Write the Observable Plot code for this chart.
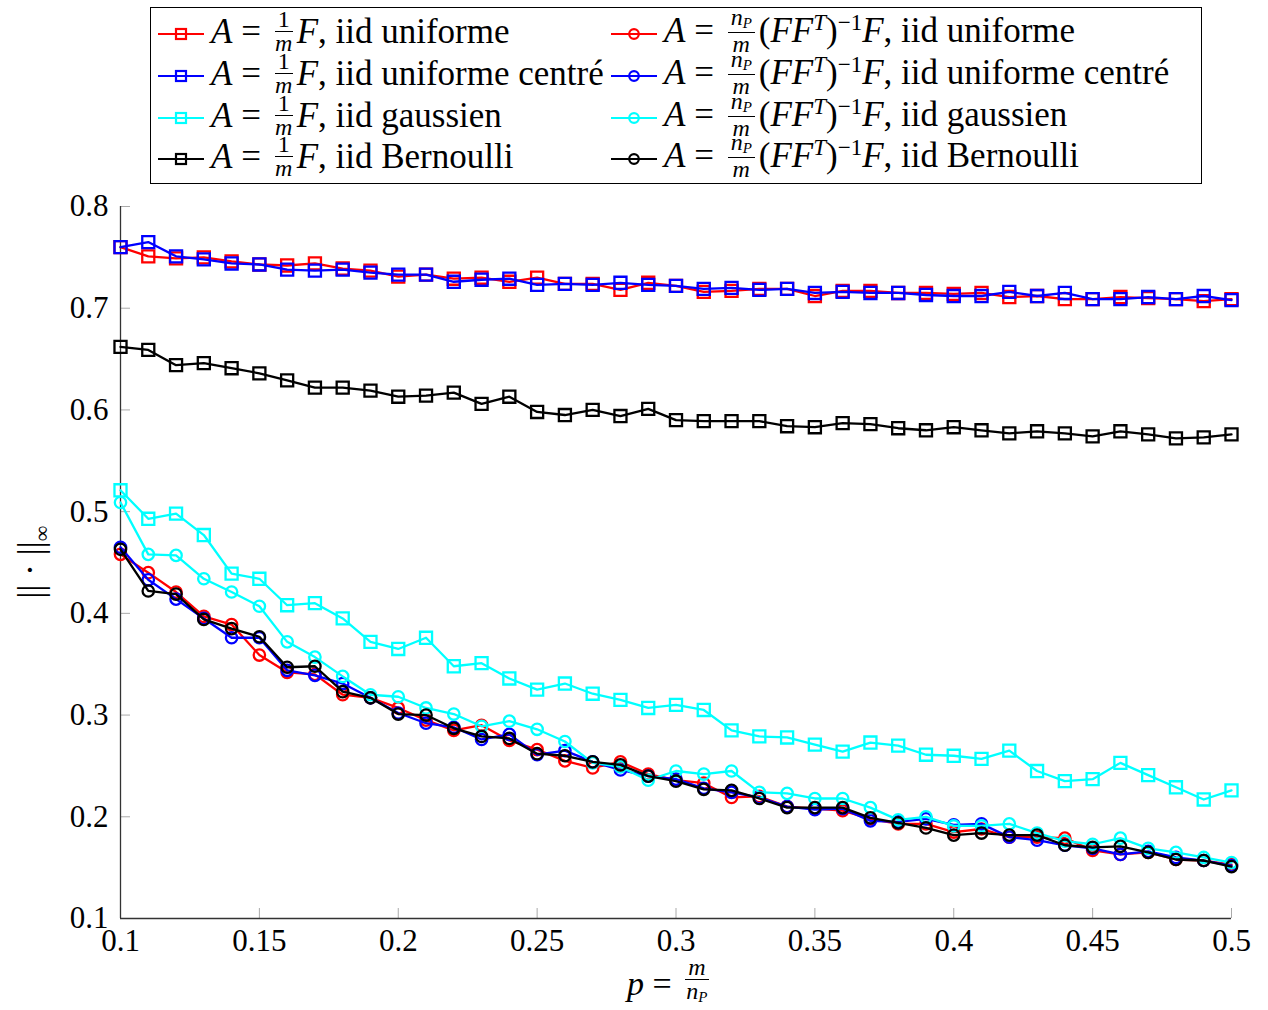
<!DOCTYPE html>
<html>
<head>
<meta charset="utf-8">
<script src="https://cdn.jsdelivr.net/npm/d3@7"></script>
<script src="https://cdn.jsdelivr.net/npm/@observablehq/plot@0.6"></script>
<style>
  body { margin: 0; background: #fff; font-family: "Liberation Serif", serif; }
  #wrap { position: relative; width: 1268px; height: 1010px; overflow: hidden; }
  #chart { position: absolute; left: 0; top: 170px; z-index: 1; }
  #legend { position: absolute; left: 150px; top: 7px; width: 1052px; height: 177px; border: 1.3px solid #000; box-sizing: border-box; background: #fff; z-index: 2; }
  .entry { position: absolute; height: 40px; display: flex; align-items: center; font-size: 35px; white-space: nowrap; color: #000; }
  .entry svg { margin-right: 6px; flex: none; }
  .it { font-style: italic; }
  .frac { display: inline-flex; flex-direction: column; align-items: center; vertical-align: middle; font-size: 24px; line-height: 19px; margin: 0 4px 0 5px; position: relative; top: -3px; }
  .frac .num { border-bottom: 1.3px solid #000; padding: 0 3px 2px 3px; }
  .frac .den { padding-top: 2px; }
  .sub { font-size: 15px; position: relative; top: 3px; font-style: italic; }
  .sup { font-size: 23px; position: relative; top: -12px; }
  #xlabel { position: absolute; left: 627px; top: 963px; height: 42px; font-size: 34px; display: flex; align-items: center; white-space: nowrap; z-index: 2; }
  #ylabel { position: absolute; left: -24px; top: 542px; width: 110px; font-size: 35px; transform: rotate(-90deg); transform-origin: center; text-align: center; white-space: nowrap; z-index: 2; }
</style>
</head>
<body>
<div id="wrap">
  <div id="chart"></div>
  <div id="legend"></div>
  <div id="xlabel"><span class="it">p</span>&nbsp;=&nbsp;<span class="frac"><span class="num it">m</span><span class="den it">n<span class="sub">P</span></span></span></div>
  <div id="ylabel">||&nbsp;·&nbsp;||<span style="font-size:22px;position:relative;top:7px">∞</span></div>
</div>
<script>
const pValues = [0.10,0.11,0.12,0.13,0.14,0.15,0.16,0.17,0.18,0.19,0.20,0.21,0.22,0.23,0.24,0.25,0.26,0.27,0.28,0.29,0.30,0.31,0.32,0.33,0.34,0.35,0.36,0.37,0.38,0.39,0.40,0.41,0.42,0.43,0.44,0.45,0.46,0.47,0.48,0.49,0.50];

const sqUniforme = [0.760,0.751,0.749,0.750,0.746,0.743,0.742,0.744,0.739,0.737,0.731,0.733,0.729,0.730,0.726,0.730,0.724,0.724,0.718,0.725,0.722,0.716,0.717,0.719,0.719,0.712,0.717,0.717,0.715,0.715,0.714,0.715,0.711,0.712,0.709,0.709,0.711,0.710,0.709,0.707,0.709];
const sqCentre = [0.760,0.765,0.751,0.748,0.744,0.743,0.738,0.737,0.738,0.735,0.733,0.733,0.726,0.728,0.729,0.723,0.724,0.723,0.725,0.723,0.722,0.719,0.720,0.718,0.719,0.715,0.716,0.715,0.715,0.713,0.712,0.712,0.716,0.712,0.715,0.709,0.709,0.711,0.709,0.712,0.708];
const sqGaussien = [0.521,0.493,0.498,0.477,0.439,0.434,0.408,0.410,0.395,0.372,0.365,0.376,0.348,0.351,0.336,0.325,0.331,0.321,0.315,0.307,0.310,0.305,0.285,0.279,0.278,0.271,0.264,0.273,0.270,0.261,0.260,0.257,0.265,0.245,0.235,0.237,0.253,0.241,0.229,0.217,0.226];
const sqBernoulli = [0.662,0.659,0.644,0.646,0.641,0.636,0.629,0.622,0.622,0.619,0.613,0.614,0.617,0.606,0.613,0.598,0.595,0.600,0.594,0.601,0.590,0.589,0.589,0.589,0.584,0.583,0.587,0.586,0.582,0.580,0.583,0.580,0.577,0.579,0.577,0.574,0.579,0.576,0.572,0.573,0.576];
const ciUniforme = [0.458,0.440,0.421,0.397,0.389,0.359,0.342,0.340,0.320,0.317,0.307,0.295,0.285,0.290,0.275,0.266,0.255,0.248,0.254,0.242,0.236,0.233,0.219,0.220,0.210,0.208,0.206,0.198,0.193,0.193,0.185,0.188,0.180,0.180,0.179,0.167,0.163,0.165,0.158,0.157,0.153];
const ciCentre = [0.465,0.433,0.414,0.395,0.376,0.376,0.344,0.339,0.331,0.317,0.302,0.292,0.288,0.276,0.281,0.261,0.265,0.254,0.246,0.240,0.237,0.228,0.224,0.219,0.210,0.207,0.208,0.196,0.195,0.198,0.192,0.193,0.180,0.177,0.172,0.169,0.163,0.166,0.160,0.157,0.152];
const ciGaussien = [0.509,0.458,0.457,0.434,0.421,0.407,0.372,0.357,0.338,0.320,0.318,0.307,0.301,0.289,0.294,0.286,0.274,0.253,0.249,0.236,0.245,0.242,0.245,0.224,0.223,0.218,0.218,0.209,0.197,0.200,0.191,0.191,0.193,0.184,0.176,0.173,0.179,0.169,0.165,0.160,0.155];
const ciBernoulli = [0.463,0.422,0.419,0.394,0.385,0.377,0.347,0.348,0.323,0.317,0.301,0.300,0.287,0.279,0.277,0.262,0.260,0.254,0.251,0.240,0.235,0.227,0.226,0.218,0.209,0.209,0.209,0.199,0.194,0.189,0.182,0.184,0.182,0.182,0.172,0.170,0.171,0.165,0.158,0.157,0.151];

const distributions = ["iid uniforme", "iid uniforme centré", "iid gaussien", "iid Bernoulli"];
const seriesColors = ["#ff0000", "#0000ff", "#00ffff", "#000000"];
const xTicks = [0.1,0.15,0.2,0.25,0.3,0.35,0.4,0.45,0.5];
const yTicks = [0.1,0.2,0.3,0.4,0.5,0.6,0.7,0.8];

const seriesList = [
  {values: sqUniforme, color: seriesColors[0], symbol: "square", dist: distributions[0], kind: "sq"},
  {values: sqCentre, color: seriesColors[1], symbol: "square", dist: distributions[1], kind: "sq"},
  {values: sqGaussien, color: seriesColors[2], symbol: "square", dist: distributions[2], kind: "sq"},
  {values: sqBernoulli, color: seriesColors[3], symbol: "square", dist: distributions[3], kind: "sq"},
  {values: ciUniforme, color: seriesColors[0], symbol: "circle", dist: distributions[0], kind: "ci"},
  {values: ciCentre, color: seriesColors[1], symbol: "circle", dist: distributions[1], kind: "ci"},
  {values: ciGaussien, color: seriesColors[2], symbol: "circle", dist: distributions[2], kind: "ci"},
  {values: ciBernoulli, color: seriesColors[3], symbol: "circle", dist: distributions[3], kind: "ci"}
];

const marks = [];
for (const s of seriesList) {
  const rows = pValues.map((p, i) => ({p, v: s.values[i]}));
  marks.push(Plot.line(rows, {x: "p", y: "v", stroke: s.color, strokeWidth: 2.3}));
  marks.push(Plot.dot(rows, {x: "p", y: "v", stroke: s.color, fill: "none", strokeWidth: 2.3,
    symbol: s.symbol, r: s.symbol === "square" ? 6.8 : 5.7}));
}

const chart = Plot.plot({
  width: 1268,
  height: 840,
  marginTop: 36,
  marginBottom: 92,
  marginLeft: 120,
  marginRight: 37,
  style: {fontFamily: "'Liberation Serif', serif", background: "transparent"},
  x: {domain: [0.1, 0.5]},
  y: {domain: [0.1, 0.8]},
  marks: [
    Plot.axisX(xTicks, {tickSize: -10, tickPadding: 20, fontSize: 31, label: null, stroke: "#aaa", color: "#000",
      tickFormat: d => String(+d.toFixed(2))}),
    Plot.axisY(yTicks, {tickSize: -10, tickPadding: 22, fontSize: 31, label: null, stroke: "#aaa", color: "#000",
      tickFormat: d => String(+d.toFixed(2))}),
    Plot.ruleX([0.1], {stroke: "#333", strokeWidth: 1.3}),
    Plot.ruleY([0.1], {stroke: "#333", strokeWidth: 1.3}),
    ...marks
  ]
});
document.getElementById("chart").appendChild(chart);

// Legend
const legend = document.getElementById("legend");
const rowCenters = [26, 68, 110, 151];
const colLeft = [6, 459];
seriesList.forEach((s) => {
  const col = s.kind === "sq" ? 0 : 1;
  const row = distributions.indexOf(s.dist);
  const e = document.createElement("div");
  e.className = "entry";
  e.style.left = colLeft[col] + "px";
  e.style.top = rowCenters[row] - 20 + "px";
  const sw = d3.create("svg").attr("width", 48).attr("height", 20);
  sw.append("line").attr("x1", 1).attr("x2", 47).attr("y1", 10).attr("y2", 10).attr("stroke", s.color).attr("stroke-width", 2.2);
  if (s.symbol === "square") sw.append("rect").attr("x", 19).attr("y", 5).attr("width", 10).attr("height", 10).attr("fill", "none").attr("stroke", s.color).attr("stroke-width", 2.2);
  else sw.append("circle").attr("cx", 24).attr("cy", 10).attr("r", 4.8).attr("fill", "none").attr("stroke", s.color).attr("stroke-width", 2.2);
  e.appendChild(sw.node());
  const t = document.createElement("span");
  if (s.kind === "sq") {
    t.innerHTML = `<span class="it">A</span>&nbsp;=&nbsp;<span class="frac"><span class="num">1</span><span class="den it">m</span></span><span class="it">F</span>, ${s.dist}`;
  } else {
    t.innerHTML = `<span class="it">A</span>&nbsp;=&nbsp;<span class="frac"><span class="num it">n<span class="sub">P</span></span><span class="den it">m</span></span>(<span class="it">FF</span><span class="sup it">T</span>)<span class="sup">−1</span><span class="it">F</span>, ${s.dist}`;
  }
  e.appendChild(t);
  legend.appendChild(e);
});
</script>
</body>
</html>
